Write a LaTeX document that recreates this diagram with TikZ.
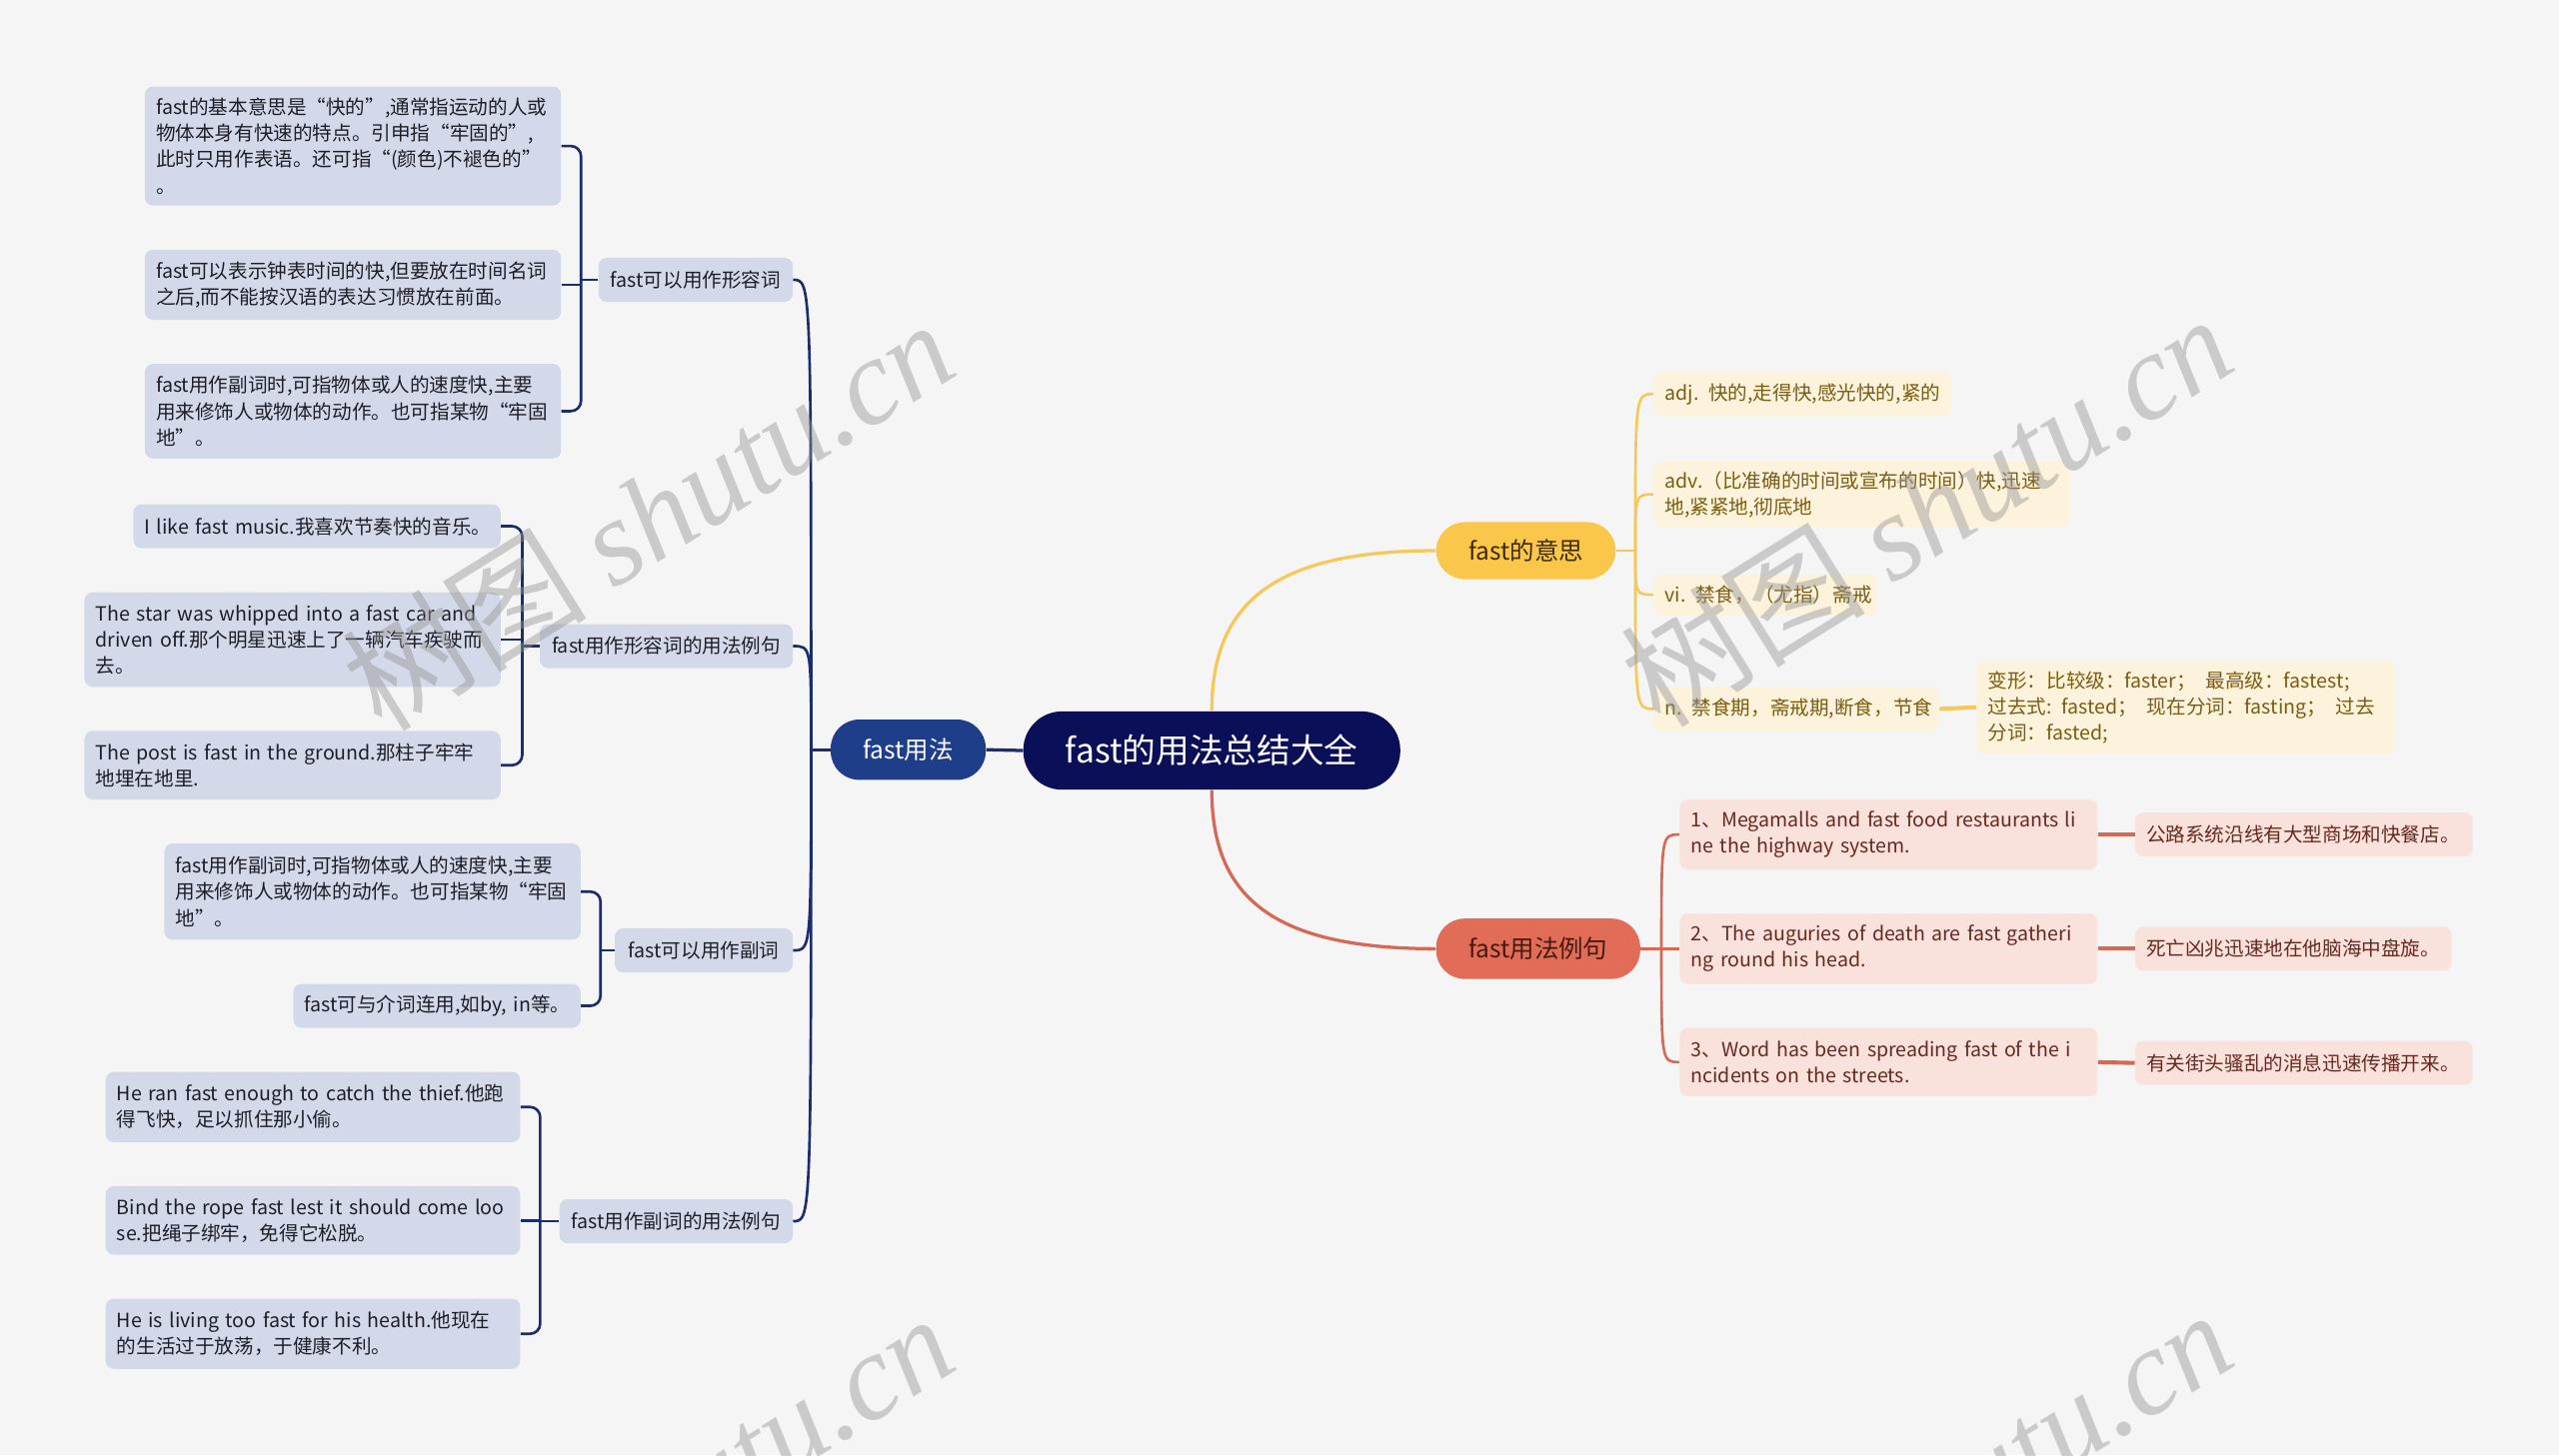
\documentclass[tikz,border=0pt]{standalone}
\usepackage{fontspec}
\setmainfont{Noto Sans CJK SC}
\newfontfamily\wmserif{Liberation Serif}
\usetikzlibrary{calc}
\newcommand{\oneline}[1]{\mbox{#1}}
\definecolor{bg}{RGB}{245,245,245}
\definecolor{rootc}{RGB}{10,15,88}
\definecolor{bluec}{RGB}{31,62,138}
\definecolor{blueline}{RGB}{27,45,110}
\definecolor{bluefill}{RGB}{211,217,233}
\definecolor{bluetext}{RGB}{30,30,40}
\definecolor{yelc}{RGB}{251,199,74}
\definecolor{yelline}{RGB}{245,200,90}
\definecolor{yelfill}{RGB}{253,243,220}
\definecolor{yeltext}{RGB}{122,92,18}
\definecolor{yeldark}{RGB}{60,44,0}
\definecolor{corc}{RGB}{225,108,87}
\definecolor{corline}{RGB}{212,106,86}
\definecolor{corfill}{RGB}{249,226,220}
\definecolor{cortext}{RGB}{105,40,30}
\definecolor{cordark}{RGB}{70,25,15}
\definecolor{wmgray}{RGB}{150,150,150}
\tikzset{
  bodyfont/.style={font=\fontsize{9.6}{12.8}\selectfont},
  leafbox/.style={bodyfont, rounded corners=4pt, inner xsep=5.5pt, inner ysep=0pt, align=left},
  leafB/.style={leafbox, fill=bluefill, text=bluetext, anchor=east},
  leafY/.style={leafbox, fill=yelfill, text=yeltext, anchor=west},
  leafC/.style={leafbox, fill=corfill, text=cortext, anchor=west},
  midB/.style={bodyfont, fill=bluefill, text=bluetext, rounded corners=4pt, inner sep=0pt, anchor=east, minimum height=21.6pt},
  lvlone/.style={font=\fontsize{12}{14}\selectfont, inner sep=0pt, rounded corners=14pt},
  rootbox/.style={font=\fontsize{16.5}{19}\selectfont, inner sep=0pt, rounded corners=19pt, fill=rootc, text=white},
  bline/.style={draw=blueline, line width=1.3pt},
  yline/.style={draw=yelline, line width=1.3pt},
  ythick/.style={draw=yelline, line width=2pt},
  cline/.style={draw=corline, line width=1.3pt},
  cthick/.style={draw=corline, line width=2pt},
  wmark/.style={rotate=32, text=wmgray, text opacity=0.45, inner sep=0pt, font=\fontsize{60}{60}\selectfont}
}
\begin{document}
\begin{tikzpicture}[x=0.8pt, y=-0.8pt]
\useasboundingbox (0,0) rectangle (1568,892);
\fill[bg] (0,0) rectangle (1568,892);

% ---- level 0 / level 1
\node[rootbox, minimum width=184.8pt, minimum height=38.4pt] (R) at (742.5,460) {fast的用法总结大全};
\node[lvlone, fill=bluec, text=white, minimum width=76pt, minimum height=29.6pt] (B) at (556.5,459.5) {fast用法};
\node[lvlone, fill=yelc, text=yeldark, minimum width=88pt, minimum height=28pt] (Y) at (935,337.5) {fast的意思};
\node[lvlone, fill=corc, text=cordark, minimum width=100pt, minimum height=29.6pt] (C) at (942.5,581.5) {fast用法例句};

% ---- left level 2
\node[midB, minimum width=95.2pt] (M1) at (486,171.5) {fast可以用作形容词};
\node[midB, minimum width=124pt] (M2) at (486,396) {fast用作形容词的用法例句};
\node[midB, minimum width=87.2pt] (M3) at (486,582.5) {fast可以用作副词};
\node[midB, minimum width=114.4pt] (M4) at (486,748.5) {fast用作副词的用法例句};

% ---- left leaves
\node[leafB, text width=193pt, minimum height=58.4pt] (L1a) at (344,89.5) {\oneline{fast的基本意思是“快的”,通常指运动的人或}\\\oneline{物体本身有快速的特点。引申指“牢固的”,}\\\oneline{此时只用作表语。还可指“(颜色)不褪色的”}\\。};
\node[leafB, text width=193pt, minimum height=34.4pt] (L1b) at (344,174.5) {\oneline{fast可以表示钟表时间的快,但要放在时间名词}\\\oneline{之后,而不能按汉语的表达习惯放在前面。}};
\node[leafB, text width=193pt, minimum height=46.4pt] (L1c) at (344,252) {\oneline{fast用作副词时,可指物体或人的速度快,主要}\\\oneline{用来修饰人或物体的动作。也可指某物“牢固}\\地”。};

\node[leafB, text width=169pt, minimum height=21.6pt] (L2a) at (307,322.5) {\oneline{I like fast music.我喜欢节奏快的音乐。}};
\node[leafB, text width=193pt, minimum height=46.4pt] (L2b) at (307,392) {\oneline{The star was whipped into a fast car and}\\\oneline{driven off.那个明星迅速上了一辆汽车疾驶而}\\去。};
\node[leafB, text width=193pt, minimum height=33.6pt] (L2c) at (307,469) {\oneline{The post is fast in the ground.那柱子牢牢}\\\oneline{地埋在地里.}};

\node[leafB, text width=193pt, minimum height=47.2pt] (L3a) at (356,546.5) {\oneline{fast用作副词时,可指物体或人的速度快,主要}\\\oneline{用来修饰人或物体的动作。也可指某物“牢固}\\地”。};
\node[leafB, text width=129.8pt, minimum height=21.6pt] (L3b) at (356,616.5) {\oneline{fast可与介词连用,如by, in等。}};

\node[leafB, text width=192.2pt, minimum height=34.4pt] (L4a) at (319,678.5) {\oneline{He ran fast enough to catch the thief.他跑}\\\oneline{得飞快，足以抓住那小偷。}};
\node[leafB, text width=192.2pt, minimum height=33.6pt] (L4b) at (319,748) {\oneline{Bind the rope fast lest it should come loo}\\\oneline{se.把绳子绑牢，免得它松脱。}};
\node[leafB, text width=192.2pt, minimum height=34.4pt] (L4c) at (319,817.5) {\oneline{He is living too fast for his health.他现在}\\\oneline{的生活过于放荡，于健康不利。}};

% ---- right yellow leaves
\node[leafY, text width=134.6pt, minimum height=21.6pt] (Y1) at (1013,241.5) {\oneline{adj. 快的,走得快,感光快的,紧的}};
\node[leafY, text width=193pt, minimum height=32pt] (Y2) at (1013,303) {\oneline{adv.（比准确的时间或宣布的时间）快,迅速}\\\oneline{地,紧紧地,彻底地}};
\node[leafY, text width=98.6pt, minimum height=20pt] (Y3) at (1013,364.5) {\oneline{vi. 禁食，（尤指）斋戒}};
\node[leafY, text width=129pt, minimum height=21.6pt] (Y4) at (1013,434.5) {\oneline{n. 禁食期，斋戒期,断食，节食}};
\node[leafY, text width=193.8pt, minimum height=45.6pt] (Y5) at (1211,433.5) {\oneline{变形：比较级：faster；\enspace 最高级：fastest;}\\\oneline{过去式: fasted；\enspace 现在分词：fasting；\enspace 过去}\\\oneline{分词：fasted;}};

% ---- right coral leaves
\node[leafC, text width=193.8pt, minimum height=34.4pt] (C1) at (1029,511.5) {\oneline{1、Megamalls and fast food restaurants li}\\\oneline{ne the highway system.}};
\node[leafC, text width=193.8pt, minimum height=34.4pt] (C2) at (1029,581.5) {\oneline{2、The auguries of death are fast gatheri}\\\oneline{ng round his head.}};
\node[leafC, text width=193.8pt, minimum height=33.6pt] (C3) at (1029,651) {\oneline{3、Word has been spreading fast of the i}\\\oneline{ncidents on the streets.}};
\node[leafC, text width=154.6pt, minimum height=21.6pt] (D1) at (1308,511.5) {\oneline{公路系统沿线有大型商场和快餐店。}};
\node[leafC, text width=144.2pt, minimum height=21.6pt] (D2) at (1308,581.5) {\oneline{死亡凶兆迅速地在他脑海中盘旋。}};
\node[leafC, text width=154.6pt, minimum height=21.6pt] (D3) at (1308,651.5) {\oneline{有关街头骚乱的消息迅速传播开来。}};

% ---- root connectors
\draw[yelline, line width=1.6pt] (R.north) .. controls (742.5,370) and (780,337.5) .. (Y.west);
\draw[corline, line width=1.6pt] (R.south) .. controls (742.5,550) and (780,581.5) .. (C.west);
\draw[blueline, line width=1.6pt] (R.west) -- (B.east);

% ---- left spine
\coordinate (bj) at (497,459.5);
\draw[bline] (B.west) -- (bj);
\draw[bline] (bj) .. controls (497,171.5) .. (M1.east);
\draw[bline] (bj) .. controls (497,396) .. (M2.east);
\draw[bline] (bj) .. controls (497,582.5) .. (M3.east);
\draw[bline] (bj) .. controls (497,748.5) .. (M4.east);

% ---- brackets
\coordinate (g1) at (356,171.5);
\draw[bline] (M1.west) -- (g1);
\draw[bline, rounded corners=5pt] (L1a.east) -| (g1) |- (L1c.east);
\draw[bline] (L1b.east) -- (L1b.east -| g1);

\coordinate (g2) at (320,396);
\draw[bline] (M2.west) -- (g2);
\draw[bline, rounded corners=5pt] (L2a.east) -| (g2) |- (L2c.east);
\draw[bline] (L2b.east) -- (L2b.east -| g2);

\coordinate (g3) at (368,582.5);
\draw[bline] (M3.west) -- (g3);
\draw[bline, rounded corners=5pt] (L3a.east) -| (g3) |- (L3b.east);

\coordinate (g4) at (331,748.5);
\draw[bline] (M4.west) -- (g4);
\draw[bline, rounded corners=5pt] (L4a.east) -| (g4) |- (L4c.east);
\draw[bline] (L4b.east) -- (L4b.east -| g4);

% ---- yellow spine
\coordinate (yj) at (1002,337.5);
\draw[yline] (Y.east) -- (yj);
\draw[yline] (yj) .. controls (1002,241.5) .. (Y1.west);
\draw[yline] (yj) .. controls (1002,303) .. (Y2.west);
\draw[yline] (yj) .. controls (1002,364.5) .. (Y3.west);
\draw[yline] (yj) .. controls (1002,434.5) .. (Y4.west);
\draw[ythick] (Y4.east) -- (Y5.west);

% ---- coral spine
\coordinate (cj) at (1018,581.5);
\draw[cline] (C.east) -- (cj);
\draw[cline] (cj) .. controls (1018,511.5) .. (C1.west);
\draw[cline] (cj) -- (C2.west);
\draw[cline] (cj) .. controls (1018,651) .. (C3.west);
\draw[cthick] (C1.east) -- (D1.west);
\draw[cthick] (C2.east) -- (D2.west);
\draw[cthick] (C3.east) -- (D3.west);

% ---- watermarks
\begin{scope}
\clip (0,0) rectangle (1568,892);
\node[wmark] (wm1) at (397,315) {树图 {\wmserif\itshape shutu.cn}};
\node[wmark] (wm2) at (1180,312) {树图 {\wmserif\itshape shutu.cn}};
\node[wmark] (wm3) at (397,925) {树图 {\wmserif\itshape shutu.cn}};
\node[wmark] (wm4) at (1180,922) {树图 {\wmserif\itshape shutu.cn}};
\end{scope}
\end{tikzpicture}
\end{document}
